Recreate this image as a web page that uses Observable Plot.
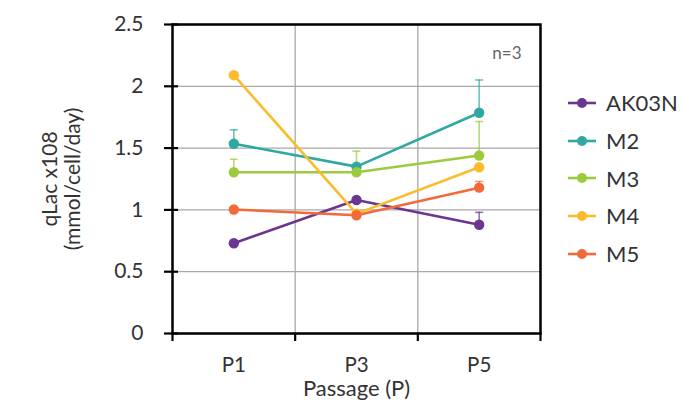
<!DOCTYPE html>
<html><head><meta charset="utf-8">
<script src="https://cdn.jsdelivr.net/npm/d3@7"></script>
<script src="https://cdn.jsdelivr.net/npm/@observablehq/plot@0.6"></script>
<style>
body{margin:0;background:#fff;font-family:Lato,sans-serif;}
#wrap{position:relative;width:683px;height:400px;}
#legend{position:absolute;left:568px;top:84px;font-size:22px;color:#333;font-family:Lato,sans-serif;}
.item{display:flex;align-items:center;height:37.7px;}
.item svg{margin-right:10px;}
</style></head><body><div id="wrap"></div>
<script>
const passages = ["P1","P3","P5"];
const passageNum = [1,3,5];
const series = ["AK03N","M2","M3","M4","M5"];
const colors = ["#6b3590","#30a8a2","#9bcb3c","#fbbc2c","#f36a3a"];
const yTicks = [0,0.5,1,1.5,2,2.5];
const xBounds = [0,2,4,6];

const valAK03N = [0.73, 1.08, 0.88];
const valM2    = [1.535, 1.35, 1.786];
const valM3    = [1.305, 1.305, 1.44];
const valM4    = [2.09, 0.97, 1.345];
const valM5    = [1.003, 0.957, 1.18];

const errAK03N = [0, 0, 0.10];
const errM2    = [0.113, 0, 0.265];
const errM3    = [0.105, 0.17, 0.275];
const errM4    = [0, 0, 0];
const errM5    = [0, 0, 0.05];

const vals = [valAK03N, valM2, valM3, valM4, valM5];
const errs = [errAK03N, errM2, errM3, errM4, errM5];

const rows = [];
series.forEach((s, si) => passageNum.forEach((p, pi) => {
  rows.push({series: s, x: p, y: vals[si][pi], err: errs[si][pi]});
}));
const errRows = rows.filter(d => d.err > 0);

const capSymbol = {draw(ctx, size) { const r = Math.sqrt(size / Math.PI); ctx.moveTo(-r, 0); ctx.lineTo(r, 0); }};

const chart = Plot.plot({
  width: 683, height: 400,
  marginLeft: 172, marginRight: 143, marginTop: 24, marginBottom: 67,
  style: {fontFamily: "Lato, sans-serif", fontSize: "21px", color: "#333", background: "white", overflow: "visible"},
  x: {domain: [0, 6]},
  y: {domain: [0, 2.5]},
  color: {domain: series, range: colors},
  marks: [
    Plot.gridY(yTicks, {stroke: "#a8a8a8", strokeOpacity: 1, strokeWidth: 1.3}),
    Plot.gridX([2, 4], {stroke: "#a8a8a8", strokeOpacity: 1, strokeWidth: 1.3}),
    Plot.axisY(yTicks, {tickSize: 14, dx: 6, tickFormat: () => "", stroke: "black", strokeWidth: 2.2, label: null}),
    Plot.axisY(yTicks, {tickSize: 0, tickPadding: 29, tickFormat: d => String(d), fill: "#333", fontSize: 21, label: null}),
    Plot.axisX(xBounds, {tickSize: 8, tickFormat: () => "", stroke: "black", strokeWidth: 2.2, label: null}),
    Plot.axisX(passageNum, {tickSize: 0, tickPadding: 24, tickFormat: d => passages[passageNum.indexOf(d)], fill: "#333", fontSize: 20.5, label: null}),
    Plot.ruleX(errRows, {x: "x", y1: "y", y2: d => d.y + d.err, stroke: "series", strokeWidth: 1.6, strokeOpacity: 0.7}),
    Plot.dot(errRows, {x: "x", y: d => d.y + d.err, symbol: capSymbol, r: 4, stroke: "series", fill: "none", strokeWidth: 1.6, strokeOpacity: 0.7}),
    Plot.line(rows, {x: "x", y: "y", stroke: "series", z: "series", strokeWidth: 2.6}),
    Plot.dot(rows, {x: "x", y: "y", fill: "series", r: 5.2}),
    Plot.frame({stroke: "black", strokeWidth: 2.5}),
    Plot.text(["n=3"], {frameAnchor: "top-right", dx: -19, dy: 22, fill: "#666", fontSize: 17, textAnchor: "end"}),
    Plot.text(["Passage (P)"], {frameAnchor: "bottom", dy: 55.5, fill: "#333", fontSize: 22, textAnchor: "middle", lineAnchor: "middle"}),
    Plot.text(["qLac x108\n(mmol/cell/day)"], {frameAnchor: "left", dx: -111, rotate: -90, fill: "#333", fontSize: 21, lineHeight: 1.1, textAnchor: "middle"})
  ]
});

const wrap = document.getElementById("wrap");
wrap.appendChild(chart);
const legend = document.createElement("div");
legend.id = "legend";
series.forEach((s, i) => {
  const item = document.createElement("div");
  item.className = "item";
  item.innerHTML = `<svg width="28" height="12"><line x1="0" y1="6" x2="28" y2="6" stroke="${colors[i]}" stroke-width="2.6"/><circle cx="14" cy="6" r="5" fill="${colors[i]}"/></svg><span>${s}</span>`;
  legend.appendChild(item);
});
wrap.appendChild(legend);
</script>
</body></html>
